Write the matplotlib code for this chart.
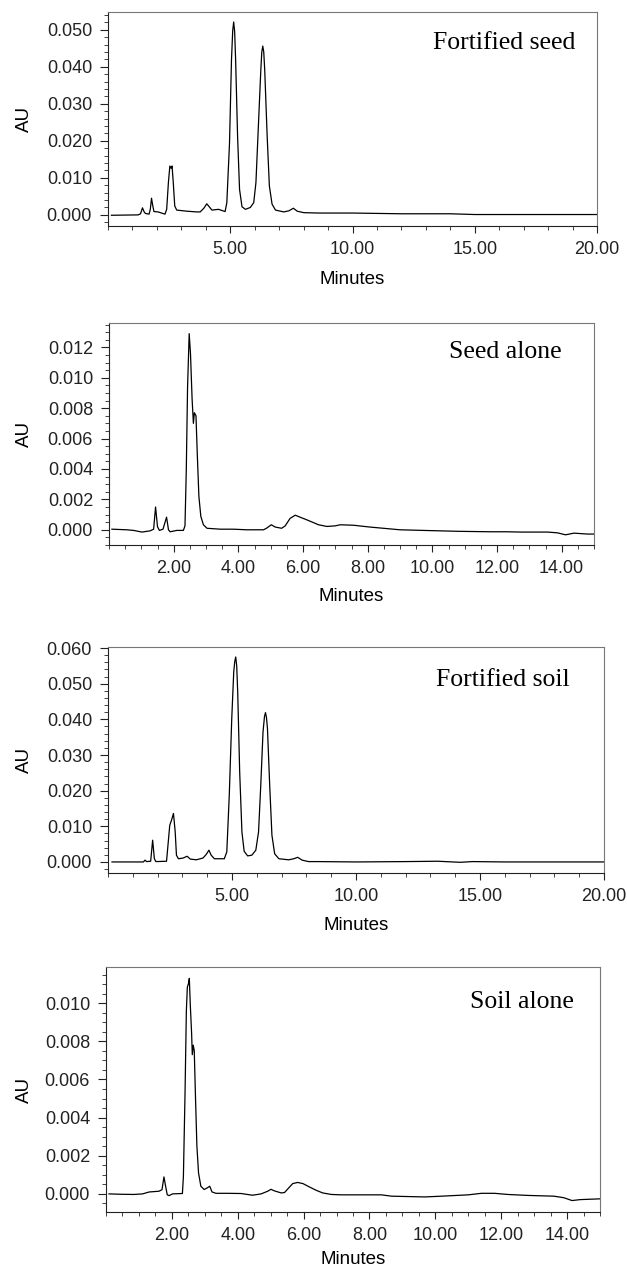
import matplotlib
matplotlib.use("Agg")
import matplotlib.pyplot as plt
from matplotlib.ticker import FixedLocator, MultipleLocator, FormatStrFormatter

# ---- data (minutes, AU) ----
t_fort_seed = [0.14, 1.23, 1.33, 1.41, 1.48, 1.53, 1.68, 1.73, 1.78, 1.83, 1.88, 2.05, 2.33, 2.40, 2.47,
               2.53, 2.58, 2.62, 2.67, 2.73, 2.81, 3.22, 3.63, 3.77, 3.92, 4.04, 4.14, 4.25, 4.52, 4.70,
               4.79, 4.86, 4.97, 5.05, 5.10, 5.14, 5.18, 5.22, 5.30, 5.38, 5.48, 5.62, 5.82, 5.96, 6.05,
               6.15, 6.25, 6.29, 6.33, 6.37, 6.41, 6.51, 6.60, 6.71, 6.85, 7.19, 7.40, 7.58, 7.74, 8.01,
               8.63, 10.0, 12.0, 14.0, 15.0, 17.0, 20.0]
au_fort_seed = [-0.0001, 0.0, 0.0003, 0.0019, 0.0008, 0.0004, 0.0002, 0.0015, 0.0045, 0.0025, 0.0009,
                0.0008, 0.0002, 0.0015, 0.0087, 0.0132, 0.0126, 0.0132, 0.0087, 0.0024, 0.0013, 0.0010,
                0.0008, 0.0008, 0.0018, 0.0030, 0.0022, 0.0013, 0.0015, 0.0011, 0.0009, 0.0033, 0.0194,
                0.0418, 0.0497, 0.0521, 0.0495, 0.0418, 0.0212, 0.0069, 0.0022, 0.0015, 0.0020, 0.0033,
                0.0087, 0.0239, 0.0391, 0.0440, 0.0456, 0.0440, 0.0391, 0.0212, 0.0078, 0.0029, 0.0013,
                0.0008, 0.0011, 0.0018, 0.0010, 0.0006, 0.0005, 0.0005, 0.0003, 0.0003, 0.0001, 0.0001,
                0.0001]

t_seed = [0.09, 0.55, 0.76, 1.02, 1.27, 1.38, 1.44, 1.50, 1.56, 1.67, 1.78, 1.84, 1.89, 2.10, 2.30,
          2.35, 2.39, 2.43, 2.48, 2.52, 2.57, 2.61, 2.64, 2.69, 2.73, 2.78, 2.84, 2.92, 3.03, 3.44,
          3.85, 4.26, 4.78, 4.87, 5.02, 5.14, 5.34, 5.45, 5.60, 5.76, 5.91, 6.17, 6.48, 6.74, 7.00,
          7.15, 7.56, 8.07, 9.0, 9.7, 10.8, 11.8, 12.3, 12.74, 13.56, 13.87, 14.12, 14.38, 14.79, 15.0]
au_seed = [0.00004, 0.0, -0.00004, -0.00015, -0.00007, 0.00004, 0.0015, 0.0002, -0.00004, 0.00004,
           0.00083, 0.0, -0.00013, -0.00004, -0.00004, 0.00026, 0.0039, 0.0094, 0.0129, 0.0116,
           0.0086, 0.0070, 0.0077, 0.0075, 0.0050, 0.0022, 0.00088, 0.00033, 0.0001, 0.00004,
           0.00004, 0.0, 0.0, 0.0001, 0.00033, 0.00018, 0.0001, 0.00026, 0.00075, 0.00096,
           0.00083, 0.00061, 0.00033, 0.00022, 0.00026, 0.00033, 0.0003, 0.00018, 0.0, -0.00004,
           -0.0001, -0.00013, -0.00013, -0.00015, -0.00015, -0.0002, -0.00033, -0.00022, -0.00028, -0.00028]

t_fort_soil = [0.16, 1.43, 1.49, 1.56, 1.72, 1.80, 1.87, 1.93, 2.36, 2.43, 2.49, 2.56, 2.64, 2.71, 2.76,
               2.84, 3.03, 3.19, 3.32, 3.56, 3.83, 3.96, 4.07, 4.16, 4.29, 4.69, 4.79, 4.89, 4.99, 5.07,
               5.11, 5.15, 5.19, 5.23, 5.31, 5.40, 5.49, 5.63, 5.80, 5.96, 6.07, 6.16, 6.25, 6.31, 6.35,
               6.39, 6.43, 6.52, 6.61, 6.72, 6.89, 7.29, 7.49, 7.65, 7.83, 8.09, 8.49, 10.0, 12.0, 13.3,
               14.2, 14.7, 16.0, 20.0]
au_fort_soil = [0.0, 0.0, 0.0005, 0.0001, 0.0002, 0.0061, 0.0009, 0.0001, 0.0002, 0.0056, 0.0103,
                0.0117, 0.0136, 0.0084, 0.0019, 0.0009, 0.0011, 0.0016, 0.0008, 0.0006, 0.0011, 0.0021,
                0.0033, 0.0019, 0.0009, 0.0009, 0.0028, 0.0187, 0.0402, 0.0533, 0.0562, 0.0575, 0.0550,
                0.0477, 0.0252, 0.0084, 0.0030, 0.0017, 0.0019, 0.0033, 0.0084, 0.0215, 0.0364, 0.0408,
                0.0419, 0.0405, 0.0374, 0.0215, 0.0075, 0.0023, 0.0009, 0.0006, 0.0009, 0.0013, 0.0005,
                0.0001, 0.0001, 0.0, 0.0001, 0.0002, -0.0001, 0.0001, 0.0, 0.0]

t_soil = [0.09, 0.45, 0.85, 1.11, 1.31, 1.61, 1.70, 1.76, 1.81, 1.86, 1.92, 2.02, 2.32, 2.35, 2.40,
          2.44, 2.47, 2.50, 2.53, 2.56, 2.60, 2.62, 2.65, 2.68, 2.72, 2.76, 2.81, 2.88, 2.98, 3.06,
          3.15, 3.22, 3.34, 3.69, 4.10, 4.45, 4.71, 4.91, 5.01, 5.11, 5.32, 5.42, 5.52, 5.67, 5.82,
          5.98, 6.18, 6.38, 6.58, 6.84, 7.14, 7.55, 8.36, 8.67, 9.68, 10.19, 11.0, 11.4, 11.8, 12.2,
          12.8, 13.6, 13.9, 14.15, 14.4, 14.7, 15.0]
au_soil = [0.0, -0.00002, -0.00003, 0.0, 0.0001, 0.00014, 0.00022, 0.00089, 0.0004, -0.00005,
           -0.00009, 0.0, 0.00002, 0.0009, 0.0053, 0.0096, 0.01085, 0.0110, 0.0113, 0.0099,
           0.0084, 0.0073, 0.0078, 0.0075, 0.0049, 0.0025, 0.0011, 0.0004, 0.00023, 0.0003,
           0.0004, 0.0001, 0.00003, 0.00003, 0.00002, -0.00007, 0.0, 0.00014, 0.00024, 0.00016,
           0.00005, 0.00007, 0.00026, 0.00054, 0.0006, 0.00054, 0.00036, 0.00019, 0.00005, -0.00003,
           -0.00005, -0.00005, -0.00005, -0.00012, -0.00016, -0.00012, -0.00005, 0.00003, 0.00003, -0.00003,
           -0.00008, -0.00012, -0.0002, -0.00035, -0.0003, -0.00028, -0.00026]

labels = ["Fortified seed", "Seed alone", "Fortified soil", "Soil alone"]
xticks_20 = [5, 10, 15, 20]
xticks_15 = [2, 4, 6, 8, 10, 12, 14]

W, H = 627, 1271
plt.rcParams["font.family"] = ["Liberation Sans", "DejaVu Sans"]
fig = plt.figure(figsize=(W / 100, H / 100), dpi=100)

# panel boxes in pixels: left, right, top, bottom, gap down to "Minutes"
boxes = [(108, 597, 12, 226, 53), (109, 594, 323, 545, 52),
         (108, 604, 647, 873, 52), (106, 600, 967, 1212, 48)]
# where the sample label sits: px in from the right edge, px down from the top
label_offsets = [(22, 31), (32, 29), (34, 33), (26, 35)]

panels = [
    (t_fort_seed, au_fort_seed, (0, 20), (-0.003, 0.0548), xticks_20, 1, 0.01, 0.002),
    (t_seed, au_seed, (0, 15), (-0.001, 0.0136), xticks_15, 0.5, 0.002, 0.0005),
    (t_fort_soil, au_fort_soil, (0, 20), (-0.0031, 0.0603), xticks_20, 1, 0.01, 0.002),
    (t_soil, au_soil, (0, 15), (-0.00095, 0.0119), xticks_15, 0.5, 0.002, 0.0005),
]

for (l, r, t, b, gap), (x, y, xl, yl, xt, xminor, ymajor, yminor), lab, (dx, dy) in zip(
        boxes, panels, labels, label_offsets):
    ax = fig.add_axes([l / W, 1 - b / H, (r - l) / W, (b - t) / H])
    ax.plot(x, y, color="black", lw=0.9)
    ax.set_xlim(*xl)
    ax.set_ylim(*yl)

    ax.xaxis.set_major_locator(FixedLocator(xt))
    ax.xaxis.set_minor_locator(MultipleLocator(xminor))
    ax.xaxis.set_major_formatter(FormatStrFormatter("%.2f"))
    ax.yaxis.set_major_locator(MultipleLocator(ymajor))
    ax.yaxis.set_minor_locator(MultipleLocator(yminor))
    ax.yaxis.set_major_formatter(FormatStrFormatter("%.3f"))

    ax.tick_params(which="both", direction="out", colors="#222222", labelsize=13)
    ax.tick_params(axis="x", which="major", length=5, pad=6)
    ax.tick_params(axis="x", which="minor", length=3)
    ax.tick_params(axis="y", which="major", length=6, pad=5.5)
    ax.tick_params(axis="y", which="minor", length=3)

    for side in ["left", "bottom"]:
        ax.spines[side].set_color("#222222")
    for side in ["top", "right"]:
        ax.spines[side].set_color("#777777")

    ax.set_ylabel("AU", fontsize=13.5, va="center")
    ax.yaxis.set_label_coords((24 - l) / (r - l), 0.5)
    ax.set_xlabel("Minutes", fontsize=13.5, va="center")
    ax.xaxis.set_label_coords(0.5, -gap / (b - t))

    ax.text(1 - dx / (r - l), 1 - dy / (b - t), lab, transform=ax.transAxes,
            ha="right", va="center", fontsize=18.5, family="Liberation Serif")

fig.savefig("out.png", dpi=100)
